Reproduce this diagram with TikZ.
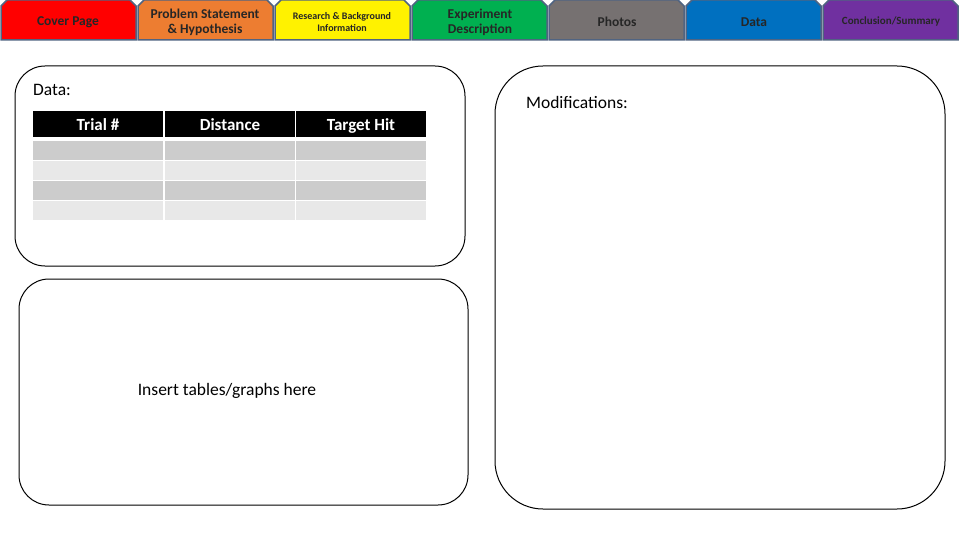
\documentclass[tikz,border=0pt]{standalone}
\usepackage{fontspec}
\setmainfont{Carlito}
\begin{document}
\begin{tikzpicture}[x=1pt,y=-1pt,
 tabbox/.style={draw=tabline,line width=1.5pt,fill=#1},
 tabtext/.style={font=\bfseries\fontsize{#1}{#1}\selectfont,align=center,text=black!85},
 panel/.style={draw=black,line width=1pt},
 hcell/.style={fill=black,text=white,font=\bfseries\fontsize{17}{18}\selectfont,minimum width=130pt,minimum height=26pt,inner sep=0pt,text height=13pt,text depth=0pt},
 cellA/.style={fill=black!20,minimum width=130pt,minimum height=19pt,inner sep=0pt},
 cellB/.style={fill=black!9,minimum width=130pt,minimum height=19pt,inner sep=0pt}]
\definecolor{tabline}{RGB}{80,100,130}
\definecolor{tabor}{RGB}{237,125,49}
\definecolor{tabgr}{RGB}{0,176,80}\definecolor{tabbl}{RGB}{0,112,192}\definecolor{tabpu}{RGB}{112,48,160}\definecolor{tabgy}{RGB}{118,113,113}
\useasboundingbox (0,0) rectangle (960,540);
\fill[white] (0,0) rectangle (960,540);
\draw[tabbox=red] (1,40) -- (1,6) -- (7,0) -- (130,0) -- (136,6) -- (136,40) -- cycle;
\draw[tabbox=tabor] (138,40) -- (138,6) -- (144,0) -- (267,0) -- (273,6) -- (273,40) -- cycle;
\draw[tabbox=yellow] (275,40) -- (275,6) -- (281,0) -- (404,0) -- (410,6) -- (410,40) -- cycle;
\draw[tabbox=tabgr] (412,40) -- (412,6) -- (418,0) -- (541,0) -- (547,6) -- (547,40) -- cycle;
\draw[tabbox=tabgy] (549,40) -- (549,6) -- (555,0) -- (678,0) -- (684,6) -- (684,40) -- cycle;
\draw[tabbox=tabbl] (686,40) -- (686,6) -- (692,0) -- (815,0) -- (821,6) -- (821,40) -- cycle;
\draw[tabbox=tabpu] (823,40) -- (823,6) -- (829,0) -- (952,0) -- (958,6) -- (958,40) -- cycle;
\node[tabtext=13.5] (t1) at (68,22) {Cover Page};
\node[tabtext=13.5] (t2) at (205,22) {Problem Statement\\[1.5pt]\& Hypothesis};
\node[tabtext=10] (t3) at (342,22) {Research \& Background\\[2pt]Information};
\node[tabtext=13.5] (t4) at (480,22) {Experiment\\[1.5pt]Description};
\node[tabtext=13.5] (t5) at (617,22) {Photos};
\node[tabtext=13.5] (t6) at (754,22) {Data};
\node[tabtext=11] (t7) at (891,22) {Conclusion/Summary};
\draw[panel,rounded corners=30pt] (15,66) rectangle (465,266);
\draw[panel,rounded corners=30pt] (19,279) rectangle (468,505);
\draw[panel,rounded corners=48pt] (495,66) rectangle (945,509);
\node[font=\fontsize{17.5}{20}\selectfont] (d) at (52,90) {Data:};
\node[font=\fontsize{17.5}{20}\selectfont] (m) at (577,102) {Modifications:};
\node[font=\fontsize{17.5}{20}\selectfont] (ins) at (227,391) {Insert tables/graphs here};
\foreach \x/\t [count=\k] in {98/Trial \#,230/Distance,361/Target Hit}{
 \node[hcell] (h\k) at (\x,124.5) {\t};
 \node[cellA] (r1\k) at (\x,150.5) {};
 \node[cellB] (r2\k) at (\x,170.5) {};
 \node[cellA] (r3\k) at (\x,190.5) {};
 \node[cellB] (r4\k) at (\x,210.5) {};
}
\end{tikzpicture}
\end{document}
